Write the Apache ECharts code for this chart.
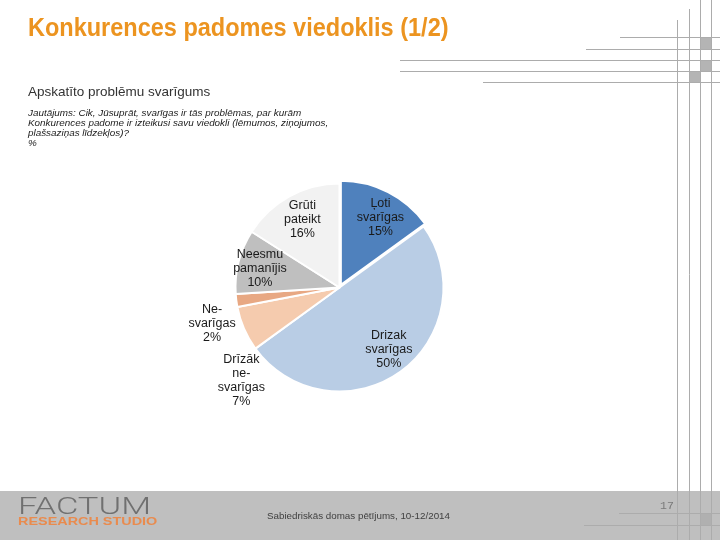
<!DOCTYPE html>
<html>
<head>
<meta charset="utf-8">
<script src="https://cdn.jsdelivr.net/npm/echarts@6/dist/echarts.min.js"></script>
<style>
html,body{margin:0;padding:0;background:#ffffff;}
#c{width:720px;height:540px;}
</style>
</head>
<body>
<div id="c"></div>
<script>
// ---- data ----
const categories = ['Ļoti\nsvarīgas', 'Drizak\nsvarīgas', 'Drīzāk\nne-\nsvarīgas', 'Ne-\nsvarīgas', 'Neesmu\npamanījis', 'Grūti\npateikt'];
const values = [15, 50, 7, 2, 10, 16];
const titleText = 'Konkurences padomes viedoklis (1/2)';
const subtitleText = 'Apskatīto problēmu svarīgums';
const questionLines = ['Jautājums: Cik, Jūsuprāt, svarīgas ir tās problēmas, par kurām', 'Konkurences padome ir izteikusi savu viedokli (lēmumos, ziņojumos,', 'plašsaziņas līdzekļos)?', '%'];
const footerText = 'Sabiedriskās domas pētījums, 10-12/2014';
const pageNumber = '17';

// ---- styles ----
const colors = ['#4f81bd', '#b9cde5', '#f5cbae', '#e8a883', '#bfbfbf', '#f2f2f2'];
const FONT = '"Liberation Sans", Arial, sans-serif';
const CX = 339.5, CY = 287.5, R = 104;
const labelNudge = {0: [6, -1], 1: [4, 0], 2: [-27.5, 62], 3: [-51, 26], 4: [-5, 0]};

const chart = echarts.init(document.getElementById('c'), null, {renderer: 'canvas', width: 720, height: 540});

const lineColor = '#acacac';
const graphics = [];
// footer band
graphics.push({type: 'rect', shape: {x: 0, y: 491, width: 720, height: 49}, style: {fill: '#bfbfbf'}});
// decorative squares
[[700, 37], [700, 60], [689, 71]].forEach(p => graphics.push({type: 'rect', shape: {x: p[0], y: p[1], width: 11, height: 12}, style: {fill: '#b4b4b4'}}));
graphics.push({type: 'rect', shape: {x: 700, y: 513, width: 11, height: 12}, style: {fill: '#b0b0b0'}});
// horizontal lines
[[620, 37], [586, 49], [400, 60], [400, 71], [483, 82], [619, 513], [584, 525]].forEach(p =>
  graphics.push({type: 'line', shape: {x1: p[0], y1: p[1] + 0.5, x2: 720, y2: p[1] + 0.5}, style: {stroke: lineColor, lineWidth: 1}}));
// vertical lines
[[677, 20], [689, 9], [700, 0], [711, 0]].forEach(p =>
  graphics.push({type: 'line', shape: {x1: p[0] + 0.5, y1: p[1], x2: p[0] + 0.5, y2: 540}, style: {stroke: lineColor, lineWidth: 1}}));
// title
graphics.push({type: 'text', x: 28, y: 29.5, scaleX: 0.94, style: {text: titleText, x: 0, y: 0, fill: '#ec9420', font: 'bold 25px ' + FONT, verticalAlign: 'middle'}});
graphics.push({type: 'text', x: 28, y: 92, style: {text: subtitleText, x: 0, y: 0, fill: '#333333', font: '13.5px ' + FONT, verticalAlign: 'middle'}});
graphics.push({type: 'text', x: 28, y: 108, style: {text: questionLines.join('\n'), x: 0, y: 0, fill: '#222222', font: 'italic 9.9px ' + FONT, lineHeight: 10, verticalAlign: 'top'}});
// logo
graphics.push({type: 'text', x: 18, y: 508.5, scaleX: 1.5, style: {text: 'FACTUM', x: 0, y: 0, fill: '#707070', font: '300 23px Roboto, "DejaVu Sans", sans-serif', verticalAlign: 'middle'}});
graphics.push({type: 'text', x: 18, y: 521.5, scaleX: 1.31, style: {text: 'RESEARCH STUDIO', x: 0, y: 0, fill: '#e98b4e', font: 'bold 11px ' + FONT, verticalAlign: 'middle'}});
// footer texts
graphics.push({type: 'text', x: 267, y: 516, style: {text: footerText, x: 0, y: 0, fill: '#404040', font: '9.8px ' + FONT, verticalAlign: 'middle'}});
graphics.push({type: 'text', x: 660, y: 506, style: {text: pageNumber, x: 0, y: 0, fill: '#7a7a7a', font: '11.5px "Liberation Mono", monospace', verticalAlign: 'middle'}});

const pieData = categories.map((name, i) => ({
  name: name,
  value: values[i],
  selected: i === 0,
  itemStyle: {color: colors[i]},
  select: {itemStyle: {color: colors[i], borderColor: '#ffffff', borderWidth: 2}}
}));

chart.setOption({
  animation: false,
  backgroundColor: '#ffffff',
  graphic: graphics,
  series: [
    {
      type: 'pie',
      center: [CX, CY],
      radius: [0, R],
      startAngle: 90,
      clockwise: true,
      selectedMode: 'single',
      selectedOffset: 3,
      silent: true,
      itemStyle: {borderColor: '#ffffff', borderWidth: 2},
      label: {show: false},
      labelLine: {show: false},
      data: pieData
    },
    {
      type: 'pie',
      center: [CX, CY],
      radius: [44, R],
      startAngle: 90,
      clockwise: true,
      silent: true,
      z: 5,
      itemStyle: {color: 'rgba(0,0,0,0)', borderWidth: 0},
      label: {show: true, position: 'inside', formatter: '{b}\n{c}%', fontFamily: FONT, fontSize: 12.5, lineHeight: 14, color: '#1a1a1a'},
      labelLine: {show: false},
      labelLayout: function (p) {
        const n = labelNudge[p.dataIndex];
        return n ? {dx: n[0], dy: n[1]} : {};
      },
      data: categories.map((name, i) => ({name: name, value: values[i]}))
    }
  ]
});
</script>
</body>
</html>
